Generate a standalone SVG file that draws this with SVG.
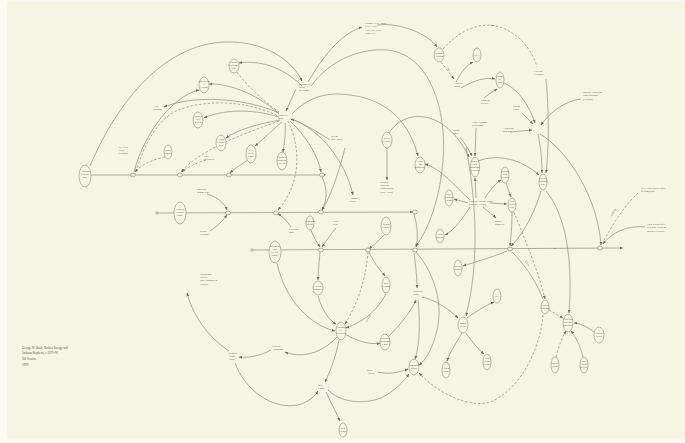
<svg xmlns="http://www.w3.org/2000/svg" width="685" height="443" viewBox="0 0 685 443">
<defs>
<marker id="ar" viewBox="0 0 6 6" refX="5.5" refY="3" markerWidth="3.6" markerHeight="3.6" orient="auto" markerUnits="userSpaceOnUse"><path d="M0,0.6 L6,3 L0,5.4 z" fill="#6f6e64"/></marker>
<style>
.c path{fill:none;stroke:#8e8d82;stroke-width:0.7}
.c path.d{stroke-dasharray:2.5 1.8}
.c path.a{marker-end:url(#ar)}
.j ellipse{fill:#f6f4e2;stroke:#7f7e74;stroke-width:0.6}
.n ellipse{fill:#f6f4e2;stroke:#8e8d82;stroke-width:0.6}
text{font-family:"Liberation Serif","DejaVu Serif",serif;font-size:2.8px;fill:#5c5b51}
.m{text-anchor:middle}
.s{font-size:2.3px}
</style>
</defs>
<rect x="0" y="0" width="685" height="443" fill="#fbfaf2"/>
<rect x="7" y="2" width="678" height="436" fill="#f6f4e2"/>

<g id="connectors" class="c">
<path class="a" d="M 91,175 L 326,175"/>
<path class="a" d="M 157,213 L 413,212"/>
<path class="a" d="M 252,250 L 623,248"/>
<path class="a" d="M 90,166 C 118,100 165,44 225,42 C 265,41 292,60 302,81"/>
<path class="a" d="M 302,86 C 282,66 258,60 239,63"/>
<path class="a" d="M 296,89 C 292,98 289,104 286,111"/>
<path class="a" d="M 308,82 C 322,58 340,34 362,27"/>
<path class="a" d="M 311,86 C 330,60 360,48 387,50 C 430,54 447,110 443,160 C 440,200 428,230 416,246"/>
<path class="d" d="M 237,72 C 250,90 268,104 279,112"/>
<path class="a" d="M 279,114 C 260,96 230,83 209,84"/>
<path class="a" d="M 279,117 C 250,108 222,110 204,118"/>
<path class="a" d="M 280,120 C 257,124 237,130 226,138"/>
<path class="d a" d="M 279,121 C 240,135 200,150 181,172"/>
<path class="a" d="M 282,122 C 270,132 260,142 255,146"/>
<path class="a" d="M 285,123 C 286,135 284,145 283,152"/>
<path class="d a" d="M 288,121 C 302,150 300,185 278,210"/>
<path class="a" d="M 290,121 C 305,135 318,155 321,172"/>
<path class="a" d="M 279,113 C 240,96 190,96 164,107"/>
<path class="d" d="M 136,172 C 145,140 160,118 178,110 C 210,98 250,102 278,116"/>
<path class="a" d="M 134,172 C 145,130 175,95 199,90"/>
<path class="d a" d="M 165,157 C 150,160 140,166 135,172"/>
<path class="d a" d="M 206,160 C 196,163 186,168 182,172"/>
<path class="a" d="M 248,160 C 240,165 233,170 230,173"/>
<path class="a" d="M 345,148 C 338,175 330,198 322,210"/>
<path class="a" d="M 322,177 C 328,190 327,200 322,210"/>
<path class="a" d="M 207,194 C 218,197 225,204 227,210"/>
<path class="a" d="M 210,231 C 218,226 224,219 227,215"/>
<path class="a" d="M 291,227 C 287,221 282,216 278,214"/>
<path class="a" d="M 311,230 C 314,238 318,244 320,247"/>
<path class="a" d="M 336,228 C 330,235 325,243 322,247"/>
<path class="a" d="M 320,252 C 319,265 318,272 318,280"/>
<path class="a" d="M 330,140 C 315,130 300,122 291,119"/>
<path class="a" d="M 292,119 C 320,130 345,160 353,195"/>
<path class="a" d="M 377,25 C 400,22 428,34 437,47"/>
<path class="d" d="M 443,49 C 460,30 480,21 500,27 C 520,34 532,50 537,67"/>
<path class="d a" d="M 441,62 L 454,79"/>
<path class="a" d="M 456,82 C 461,72 467,65 473,62"/>
<path class="a" d="M 461,88 C 474,80 487,77 495,79"/>
<path class="a" d="M 484,98 C 490,93 494,91 497,89"/>
<path class="a" d="M 504,83 C 520,90 530,108 535,123"/>
<path class="a" d="M 522,113 L 533,124"/>
<path class="a" d="M 510,132 L 532,130"/>
<path class="a" d="M 581,99 C 565,101 550,112 541,125"/>
<path class="a" d="M 540,134 C 570,152 598,200 601,245"/>
<path class="a" d="M 538,134 C 541,150 542,160 542,173"/>
<path class="a" d="M 546,79 C 549,110 549,150 546,173"/>
<path class="a" d="M 478,161 C 496,154 520,158 539,175"/>
<path class="a" d="M 546,191 C 566,215 573,260 569,313"/>
<path class="a" d="M 541,191 C 535,212 522,236 511,246"/>
<path class="d a" d="M 514,212 C 525,240 538,270 545,299"/>
<path d="M 512,252 C 522,262 535,278 543,299"/>
<path class="d" d="M 602,244 C 612,225 625,205 638,193"/>
<path class="a" d="M 645,227 C 628,225 612,232 603,244"/>
<path class="d a" d="M 549,310 L 563,318"/>
<path class="a" d="M 594,332 C 586,326 579,323 574,323"/>
<path class="d a" d="M 556,357 C 559,345 563,336 566,331"/>
<path class="a" d="M 583,357 C 580,345 575,336 571,331"/>
<path class="d a" d="M 543,315 C 540,350 520,390 490,402 C 470,408 440,395 419,373"/>
<path class="a" d="M 476,198 L 475,178"/>
<path class="a" d="M 460,137 C 466,145 470,152 472,156"/>
<path class="a" d="M 476,128 L 475,156"/>
<path class="a" d="M 389,133 C 405,108 445,108 469,157"/>
<path class="a" d="M 292,114 C 310,95 330,92 350,95 C 390,100 410,125 418,156"/>
<path class="a" d="M 470,200 C 455,186 440,168 425,164"/>
<path class="a" d="M 468,203 L 454,199"/>
<path class="a" d="M 485,198 C 490,190 496,183 501,180"/>
<path class="a" d="M 490,203 L 507,204"/>
<path class="a" d="M 483,207 C 488,212 493,215 496,218"/>
<path class="a" d="M 470,207 C 462,220 452,232 445,235"/>
<path class="a" d="M 506,183 L 511,197"/>
<path class="a" d="M 512,212 C 512,225 511,238 510,246"/>
<path class="a" d="M 466,147 C 476,200 480,260 466,316"/>
<path class="a" d="M 507,251 C 490,258 475,262 463,266"/>
<path class="a" d="M 387,148 L 387,180"/>
<path class="a" d="M 414,214 C 418,228 418,240 416,247"/>
<path class="a" d="M 384,235 C 378,242 372,246 369,249"/>
<path class="a" d="M 369,252 C 375,265 382,272 385,276"/>
<path class="d a" d="M 368,252 C 366,275 360,300 345,324"/>
<path class="a" d="M 386,294 C 382,302 375,310 368,316 C 360,322 352,326 346,328"/>
<path class="a" d="M 345,334 C 358,342 372,345 380,343"/>
<path class="a" d="M 389,336 C 400,325 412,310 416,300"/>
<path class="a" d="M 414,253 C 416,268 417,278 417,288"/>
<path class="a" d="M 418,300 C 420,320 420,345 415,359"/>
<path class="a" d="M 422,297 C 436,300 450,310 458,318"/>
<path class="a" d="M 467,318 C 478,310 487,305 494,302"/>
<path class="a" d="M 462,333 C 455,345 450,352 447,361"/>
<path class="a" d="M 466,333 C 472,342 479,350 484,354"/>
<path class="a" d="M 416,252 C 432,270 444,300 437,330 C 433,348 426,360 419,365"/>
<path class="a" d="M 328,390 C 340,402 362,405 381,398 C 395,391 404,381 409,374"/>
<path class="a" d="M 378,372 C 390,375 400,372 408,369"/>
<path class="a" d="M 229,351 C 205,335 192,312 187,293"/>
<path class="a" d="M 271,350 C 260,356 249,358 239,357"/>
<path class="a" d="M 337,337 C 325,350 305,360 285,352"/>
<path class="a" d="M 277,263 C 285,300 310,325 335,331"/>
<path class="a" d="M 318,296 C 322,310 329,320 336,324"/>
<path class="a" d="M 339,340 C 335,360 329,374 325,382"/>
<path class="a" d="M 326,392 C 332,405 337,414 340,421"/>
<path class="a" d="M 235,363 C 245,390 272,410 298,405 C 309,402 315,396 318,391"/>
<text class="s" transform="translate(447,68) rotate(55)">Rep.</text>
<text class="s" x="489" y="26">Loans</text>
<text class="s" transform="translate(612,216) rotate(-58)">$848,560</text>
<text class="s" transform="translate(525,261) rotate(58)">$25 mil.</text>
<text class="s" transform="translate(367,322) rotate(-60)">$3.5 mil.</text>
<text class="s m" x="555" y="249">($)</text>
</g>

<g id="junctions" class="j">
<ellipse cx="133" cy="175" rx="2.4" ry="2"/>
<ellipse cx="180" cy="175" rx="2.4" ry="2"/>
<ellipse cx="229" cy="175" rx="2.4" ry="2"/>
<ellipse cx="322" cy="175" rx="2.4" ry="2"/>
<ellipse cx="157" cy="213" rx="1.2" ry="1.2"/>
<ellipse cx="228" cy="213" rx="2.4" ry="2"/>
<ellipse cx="276" cy="213" rx="2.4" ry="2"/>
<ellipse cx="321" cy="212" rx="2.4" ry="2"/>
<ellipse cx="415" cy="212" rx="2.4" ry="2"/>
<ellipse cx="252" cy="250" rx="1.2" ry="1.2"/>
<ellipse cx="321" cy="250" rx="2.4" ry="2"/>
<ellipse cx="368" cy="250" rx="2.4" ry="2"/>
<ellipse cx="415" cy="250" rx="2.4" ry="2"/>
<ellipse cx="510" cy="249" rx="2.4" ry="2"/>
<ellipse cx="600" cy="248" rx="2.6" ry="2"/>
</g>

<g id="n1" class="n"><ellipse cx="85" cy="176" rx="6" ry="11"/><text class="m" x="85" y="172"><tspan x="85">Arbusto</tspan><tspan x="85" dy="3.2">Energy</tspan><tspan x="85" dy="3.2">Inc.</tspan></text></g>
<g id="n2" class="n"><ellipse cx="234" cy="66" rx="5" ry="7"/><text class="m" x="234" y="63"><tspan x="234">Bush</tspan><tspan x="234" dy="3">Explor.</tspan><tspan x="234" dy="3">Co.</tspan></text></g>
<g id="n3" class="n"><ellipse cx="204" cy="85" rx="5" ry="8"/><text class="m" x="204" y="82"><tspan x="204">Spectrum</tspan><tspan x="204" dy="3">7</tspan><tspan x="204" dy="3">(1984)</tspan></text></g>
<g id="n4" class="n"><ellipse cx="198" cy="120" rx="5" ry="8"/><text class="m" x="198" y="117"><tspan x="198">Harken</tspan><tspan x="198" dy="3">Oil</tspan><tspan x="198" dy="3">&amp; Gas</tspan></text></g>
<g id="n5" class="n"><ellipse cx="221" cy="143" rx="5" ry="8"/><text class="m" x="221" y="140"><tspan x="221">Aloha</tspan><tspan x="221" dy="3">Petrol.</tspan><tspan x="221" dy="3">Ltd.</tspan></text></g>
<g id="n6" class="n"><ellipse cx="251" cy="154" rx="5" ry="9"/><text class="m" x="251" y="151"><tspan x="251">E-Z</tspan><tspan x="251" dy="3">Serve</tspan><tspan x="251" dy="3">Corp.</tspan></text></g>
<g id="n7" class="n"><ellipse cx="282" cy="161" rx="5" ry="9"/><text class="m" x="282" y="158"><tspan x="282">Harken</tspan><tspan x="282" dy="3">Bahrain</tspan><tspan x="282" dy="3">Oil Co.</tspan></text></g>
<g id="n8" class="n"><ellipse cx="168" cy="152" rx="4" ry="7"/><text class="m" x="168" y="151"><tspan x="168">UBS</tspan><tspan x="168" dy="3">Zurich</tspan></text></g>
<g id="n10" class="n"><ellipse cx="180" cy="213" rx="6" ry="11"/><text class="m" x="180" y="210"><tspan x="180">Harken</tspan><tspan x="180" dy="3.2">Energy</tspan><tspan x="180" dy="3.2">Corp.</tspan></text></g>
<g id="n11" class="n"><ellipse cx="275" cy="252" rx="6" ry="11"/><text class="m" x="275" y="247"><tspan x="275">Stephens</tspan><tspan x="275" dy="3">Inc.</tspan><tspan x="275" dy="3">(Little</tspan><tspan x="275" dy="3">Rock)</tspan></text></g>
<g id="n12" class="n"><ellipse cx="310" cy="223" rx="4" ry="7"/><text class="m" x="310" y="222"><tspan x="310">Worthen</tspan><tspan x="310" dy="3">Bank</tspan></text></g>
<g id="n13" class="n"><ellipse cx="318" cy="288" rx="5" ry="7"/><text class="m" x="318" y="287"><tspan x="318">Texas</tspan><tspan x="318" dy="3">Rangers</tspan></text></g>
<g id="n14" class="n"><ellipse cx="387" cy="140" rx="5" ry="8"/><text class="m" x="387" y="139"><tspan x="387">BCCI</tspan><tspan x="387" dy="3">(Lux.)</tspan></text></g>
<g id="n15" class="n"><ellipse cx="420" cy="165" rx="5" ry="8"/><text class="m" x="420" y="162"><tspan x="420">First</tspan><tspan x="420" dy="3">Am.</tspan><tspan x="420" dy="3">Bankshrs.</tspan></text></g>
<g id="n16" class="n"><ellipse cx="439" cy="55" rx="5" ry="7"/><text class="m" x="439" y="54"><tspan x="439">Kamal</tspan><tspan x="439" dy="3">Adham</tspan></text></g>
<g id="n17" class="n"><ellipse cx="477" cy="55" rx="4" ry="7"/><text class="m" x="477" y="56">CIA</text></g>
<g id="n18" class="n"><ellipse cx="500" cy="80" rx="4" ry="8"/><text class="m" x="500" y="77"><tspan x="500">Bank</tspan><tspan x="500" dy="3">of</tspan><tspan x="500" dy="3">Amer.</tspan></text></g>
<g id="n19" class="n"><ellipse cx="475" cy="167" rx="4.5" ry="10"/><text class="m" x="475" y="162"><tspan x="475">Khalid</tspan><tspan x="475" dy="3">bin</tspan><tspan x="475" dy="3">Mahfouz</tspan><tspan x="475" dy="3">(Jeddah)</tspan></text></g>
<g id="n20" class="n"><ellipse cx="449" cy="198" rx="4" ry="8"/><text class="m" x="449" y="195"><tspan x="449">Nat'l</tspan><tspan x="449" dy="3">Comm.</tspan><tspan x="449" dy="3">Bank</tspan></text></g>
<g id="n21" class="n"><ellipse cx="505" cy="175" rx="4" ry="8"/><text class="m" x="505" y="172"><tspan x="505">Salem</tspan><tspan x="505" dy="3">bin</tspan><tspan x="505" dy="3">Laden</tspan></text></g>
<g id="n22" class="n"><ellipse cx="512" cy="205" rx="4" ry="7"/><text class="m" x="512" y="202"><tspan x="512">Bin</tspan><tspan x="512" dy="3">Laden</tspan><tspan x="512" dy="3">Grp.</tspan></text></g>
<g id="n23" class="n"><ellipse cx="543" cy="182" rx="4" ry="8"/><text class="m" x="543" y="179"><tspan x="543">Sheikh</tspan><tspan x="543" dy="3">Bakhsh</tspan><tspan x="543" dy="3">Co.</tspan></text></g>
<g id="n24" class="n"><ellipse cx="440" cy="236" rx="4" ry="7"/><text class="m" x="440" y="235"><tspan x="440">Gulf</tspan><tspan x="440" dy="3">Invest.</tspan></text></g>
<g id="n25" class="n"><ellipse cx="386" cy="226" rx="5" ry="9"/><text class="m" x="386" y="225"><tspan x="386">Lippo</tspan><tspan x="386" dy="3">Group</tspan></text></g>
<g id="n26" class="n"><ellipse cx="458" cy="268" rx="4" ry="8"/><text class="m" x="458" y="267"><tspan x="458">Riady</tspan><tspan x="458" dy="3">Family</tspan></text></g>
<g id="n27" class="n"><ellipse cx="386" cy="285" rx="4" ry="8"/><text class="m" x="386" y="284"><tspan x="386">Bill</tspan><tspan x="386" dy="3">Clinton</tspan></text></g>
<g id="n28" class="n"><ellipse cx="497" cy="296" rx="4" ry="7"/><text class="m" x="497" y="297">ADFA</text></g>
<g id="n29" class="n"><ellipse cx="341" cy="331" rx="5" ry="9"/><text class="m" x="341" y="328"><tspan x="341">Jackson</tspan><tspan x="341" dy="3">T.</tspan><tspan x="341" dy="3">Stephens</tspan></text></g>
<g id="n30" class="n"><text class="m" x="232" y="354"><tspan x="232">Arkansas</tspan><tspan x="232" dy="3">Bank</tspan><tspan x="232" dy="3">Corp.</tspan></text></g>
<g id="n31" class="n"><ellipse cx="385" cy="342" rx="5" ry="8"/><text class="m" x="385" y="339"><tspan x="385">Worthen</tspan><tspan x="385" dy="3">Banking</tspan><tspan x="385" dy="3">Corp.</tspan></text></g>
<g id="n32" class="n"><ellipse cx="414" cy="367" rx="5" ry="8"/><text class="m" x="414" y="366"><tspan x="414">Mochtar</tspan><tspan x="414" dy="3">Riady</tspan></text></g>
<g id="n33" class="n"><ellipse cx="463" cy="325" rx="5" ry="8"/><text class="m" x="463" y="324"><tspan x="463">James</tspan><tspan x="463" dy="3">Riady</tspan></text></g>
<g id="n34" class="n"><ellipse cx="446" cy="370" rx="4" ry="8"/><text class="m" x="446" y="369"><tspan x="446">Lippo</tspan><tspan x="446" dy="3">Bank</tspan></text></g>
<g id="n35" class="n"><ellipse cx="487" cy="362" rx="4" ry="8"/><text class="m" x="487" y="359"><tspan x="487">Hip</tspan><tspan x="487" dy="3">Hing</tspan><tspan x="487" dy="3">Bank</tspan></text></g>
<g id="n36" class="n"><ellipse cx="343" cy="430" rx="4" ry="7"/><text class="m" x="343" y="429"><tspan x="343">Bert</tspan><tspan x="343" dy="3">Lance</tspan></text></g>
<g id="n37" class="n"><ellipse cx="545" cy="307" rx="4" ry="7"/><text class="m" x="545" y="306"><tspan x="545">Ghaith</tspan><tspan x="545" dy="3">Pharaon</tspan></text></g>
<g id="n38" class="n"><ellipse cx="568" cy="323" rx="5" ry="9"/><text class="m" x="568" y="320"><tspan x="568">CenTrust</tspan><tspan x="568" dy="3">Savings</tspan><tspan x="568" dy="3">(Miami)</tspan></text></g>
<g id="n39" class="n"><ellipse cx="599" cy="335" rx="5" ry="8"/><text class="m" x="599" y="334"><tspan x="599">David</tspan><tspan x="599" dy="3">Paul</tspan></text></g>
<g id="n40" class="n"><ellipse cx="555" cy="365" rx="4" ry="8"/><text class="m" x="555" y="364"><tspan x="555">Indep.</tspan><tspan x="555" dy="3">Bank</tspan></text></g>
<g id="n41" class="n"><ellipse cx="584" cy="365" rx="4" ry="8"/><text class="m" x="584" y="362"><tspan x="584">Nat'l</tspan><tspan x="584" dy="3">Bank</tspan><tspan x="584" dy="3">of Ga.</tspan></text></g>

<g id="t-bush"><text x="299" y="85"><tspan x="299">George W.</tspan><tspan x="299" dy="3">Bush</tspan><tspan x="299" dy="3">(b. 1946)</tspan></text></g>
<g id="t-bath"><text x="278" y="116"><tspan x="278">James R.</tspan><tspan x="278" dy="3.2">Bath</tspan></text></g>
<g id="t-ghwb"><text x="365" y="24"><tspan x="365">George H.W. Bush</tspan><tspan x="365" dy="3.3">(Vice Pres.</tspan><tspan x="365" dy="3.3">1981-89; Pres.</tspan><tspan x="365" dy="3.3">1989-93)</tspan></text></g>
<g id="t-lloyds"><text x="454" y="84"><tspan x="454">Lloyd's</tspan><tspan x="454" dy="3.2">Bank</tspan></text></g>
<g id="t-5"><text x="481" y="101"><tspan x="481">Bank of</tspan><tspan x="481" dy="3.2">Credit</tspan></text></g>
<g id="t-othman"><text x="472" y="123"><tspan x="472">Talat Othman</tspan><tspan x="472" dy="3.2">(Chicago)</tspan></text></g>
<g id="t-7"><text x="503" y="129"><tspan x="503">Abdullah</tspan><tspan x="503" dy="3.2">Bakhsh</tspan></text></g>
<g id="t-8"><text x="453" y="131"><tspan x="453">Saudi</tspan><tspan x="453" dy="3.2">Govt.</tspan></text></g>
<g id="t-latifah"><text x="534" y="72"><tspan x="534">Latifah</tspan><tspan x="534" dy="3.2">Alaghary</tspan></text></g>
<g id="t-bakhsh"><text x="583" y="93"><tspan x="583">Sheikh Abdullah</tspan><tspan x="583" dy="3.3">Taha Bakhsh</tspan><tspan x="583" dy="3.3">(Jeddah)</tspan></text></g>
<g id="t-12"><text x="513" y="107"><tspan x="513">Union</tspan><tspan x="513" dy="3.2">Bank</tspan></text></g>
<g id="t-lay"><text x="641" y="189"><tspan x="641">July 1990 Stock Sold</tspan><tspan x="641" dy="3.3">of $848,560</tspan></text></g>
<g id="t-twoweeks"><text x="647" y="225"><tspan x="647">Two weeks after</tspan><tspan x="647" dy="3.3">Saddam Hussein</tspan><tspan x="647" dy="3.3">invades Kuwait</tspan></text></g>
<g id="t-harken"><text x="469" y="202"><tspan x="469">Harken Energy Corp.</tspan><tspan x="469" dy="3.2">(Dallas, Texas)</tspan></text></g>
<g id="t-16"><text x="380" y="183"><tspan x="380">Harken</tspan><tspan x="380" dy="3.2">Bahrain</tspan><tspan x="380" dy="3.2">Concession</tspan><tspan x="380" dy="3.2">(Jan. 1990)</tspan></text></g>
<g id="t-17"><text x="350" y="199"><tspan x="350">Amoco</tspan><tspan x="350" dy="3.2">Corp.</tspan></text></g>
<g id="t-18"><text x="331" y="137"><tspan x="331">Salem</tspan><tspan x="331" dy="3.2">bin Laden</tspan></text></g>
<g id="t-19"><text x="119" y="148"><tspan x="119">Lt. Gen.</tspan><tspan x="119" dy="3.2">Talat</tspan><tspan x="119" dy="3.2">Othman</tspan></text></g>
<g id="t-20"><text x="153" y="107"><tspan x="153">Alan</tspan><tspan x="153" dy="3.2">Quasha</tspan></text></g>
<g id="t-21"><text x="204" y="157"><tspan x="204">Phil</tspan><tspan x="204" dy="3.2">Kendrick</tspan></text></g>
<g id="t-22"><text x="197" y="190"><tspan x="197">Harvard</tspan><tspan x="197" dy="3.2">Mgmt. Co.</tspan></text></g>
<g id="t-23"><text x="200" y="232"><tspan x="200">Stuart</tspan><tspan x="200" dy="3.2">Watson</tspan></text></g>
<g id="t-24"><text x="289" y="230"><tspan x="289">Harvard</tspan><tspan x="289" dy="3.2">Mgt.</tspan></text></g>
<g id="t-25"><text x="333" y="222"><tspan x="333">Gulf</tspan><tspan x="333" dy="3.2">War</tspan></text></g>
<g id="t-26"><text x="495" y="222"><tspan x="495">Saudi</tspan><tspan x="495" dy="3.2">Bankers</tspan></text></g>
<g id="t-27"><text x="413" y="292"><tspan x="413">Worthen</tspan><tspan x="413" dy="3.2">Bank</tspan></text></g>
<g id="t-28"><text x="272" y="347"><tspan x="272">Harken</tspan><tspan x="272" dy="3.2">Anadarko</tspan></text></g>
<g id="t-29"><text x="200" y="275"><tspan x="200">Southland</tspan><tspan x="200" dy="3.2">Pacific</tspan><tspan x="200" dy="3.2">Inter-Mountain</tspan><tspan x="200" dy="3.2">Capital</tspan></text></g>
<g id="t-30"><text x="318" y="386"><tspan x="318">Bert</tspan><tspan x="318" dy="3.2">Lance</tspan></text></g>
<g id="t-31"><text x="367" y="371"><tspan x="367">Max</tspan><tspan x="367" dy="3.2">Austin</tspan></text></g>
<g id="credit"><text x="22" y="349" style="font-size:3.1px"><tspan x="22">George W. Bush, Harken Energy and</tspan><tspan x="22" dy="4.6">Jackson Stephens, c.1979-90</tspan><tspan x="22" dy="6">5th Version</tspan><tspan x="22" dy="6">1999</tspan></text></g>
</svg>
